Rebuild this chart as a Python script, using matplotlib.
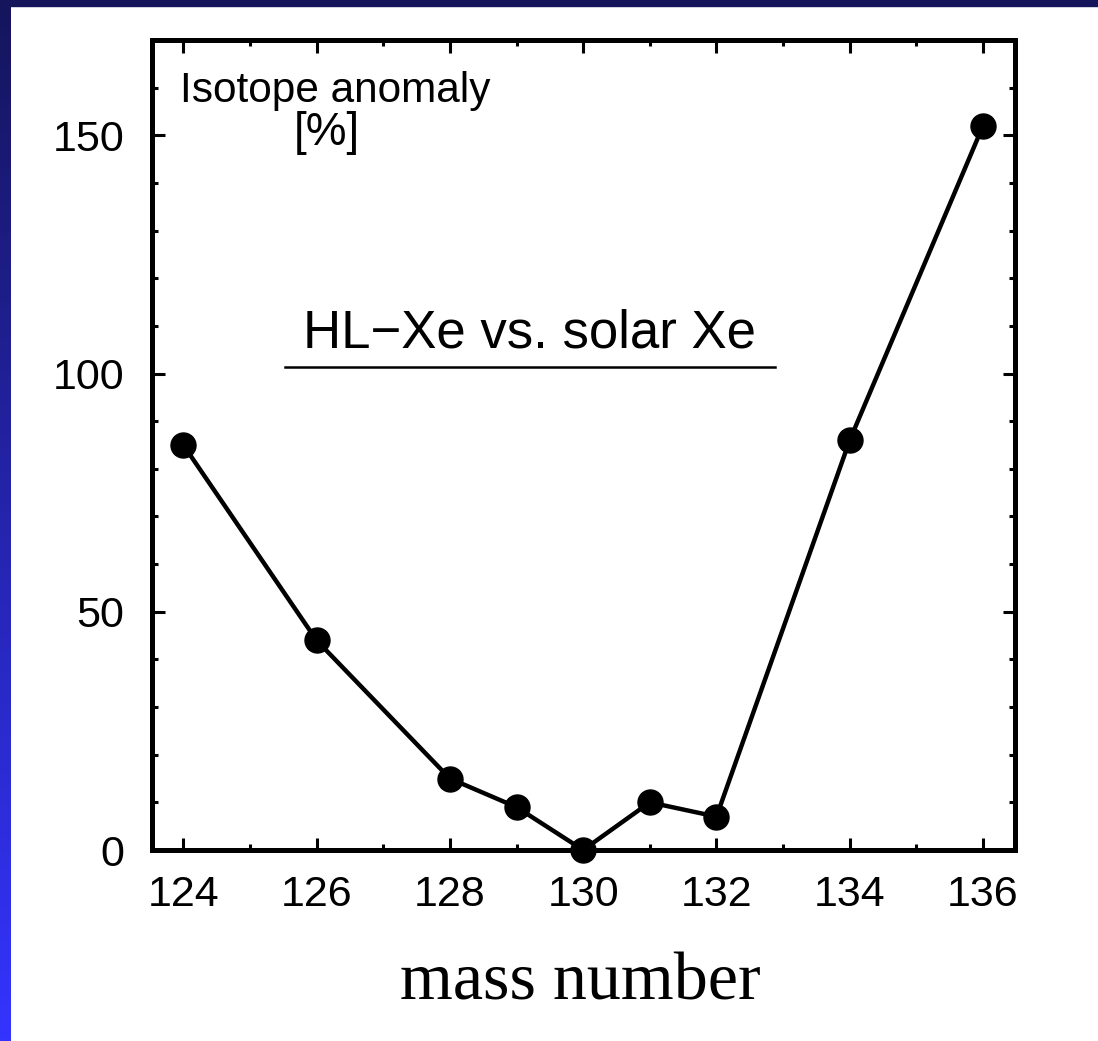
import matplotlib.pyplot as plt
import numpy as np

# Anomalia izotopowa ksenonu HL względem ksenonu słonecznego
mass = [124, 126, 128, 129, 130, 131, 132, 134, 136]
anomaly = [85, 44, 15, 9, 0, 10, 7, 86, 152]
x_major = [124, 126, 128, 130, 132, 134, 136]
y_major = [0, 50, 100, 150]

fig = plt.figure(figsize=(10.98, 10.41), dpi=100)
fig.patch.set_facecolor("white")

# Pasek u góry i gradient po lewej (ramka slajdu)
fig.patches.append(plt.Rectangle((0, 1 - 6 / 1041), 1, 6 / 1041,
                                 transform=fig.transFigure, color="#15155c", zorder=5))
bar = fig.add_axes([0, 0, 10 / 1098, 1])
grad = np.linspace(0, 1, 256).reshape(-1, 1)
cmap = plt.matplotlib.colors.LinearSegmentedColormap.from_list("pasek", ["#3434ff", "#15155c"])
bar.imshow(grad, aspect="auto", cmap=cmap, origin="lower", extent=[0, 1, 0, 1])
bar.axis("off")

ax = fig.add_axes([152 / 1098, 1 - 850 / 1041, (1015 - 152) / 1098, (850 - 40) / 1041])
ax.plot(mass, anomaly, color="black", lw=3.2, marker="o", markersize=18, clip_on=False, zorder=3)

ax.set_xlim(123.53, 136.48)
ax.set_ylim(0, 170)
ax.set_xticks(x_major)
ax.set_xticks(np.arange(125, 137, 2), minor=True)
ax.set_yticks(y_major)
ax.set_yticks(np.arange(10, 170, 10), minor=True)

for s in ax.spines.values():
    s.set_linewidth(3.6)
ax.tick_params(which="both", direction="in", top=True, right=True, width=2.2)
ax.tick_params(which="major", length=9)
ax.tick_params(which="minor", length=4.5)
ax.tick_params(axis="x", pad=18)
ax.tick_params(axis="y", pad=20)
for lab in ax.get_xticklabels() + ax.get_yticklabels():
    lab.set_fontfamily("Liberation Sans")
    lab.set_fontsize(31)

# Opisy wewnątrz wykresu
ax.text(0.033, 0.937, "Isotope anomaly", transform=ax.transAxes, fontsize=30.5,
        family="Liberation Sans", va="center", ha="left")
ax.text(0.203, 0.885, "[%]", transform=ax.transAxes, fontsize=33,
        family="Liberation Sans", va="center", ha="center")
ax.text(0.438, 0.638, "HL\u2212Xe vs. solar Xe", transform=ax.transAxes, fontsize=38,
        family="Liberation Sans", va="center", ha="center")
ax.plot([0.154, 0.722], [0.596, 0.596], transform=ax.transAxes, color="black", lw=1.8)

fig.text(580 / 1098, 1 - 983 / 1041, "mass number", fontsize=49,
         family="Liberation Serif", ha="center", va="center")

plt.savefig("out.png", dpi=100)
plt.close()
